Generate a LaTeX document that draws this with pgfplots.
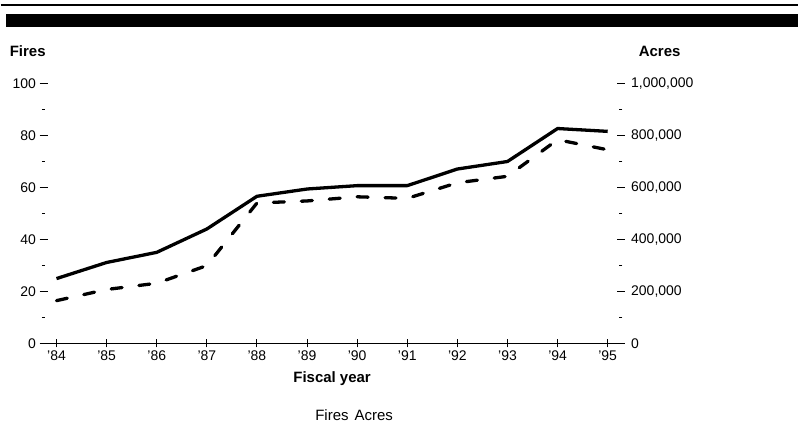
\documentclass[border=0pt]{standalone}
\usepackage{pgfplots}
\pgfplotsset{compat=1.18}
\usepackage{fontspec}
\setmainfont{Liberation Sans}
\pgfplotstableread{
year fires acres
84 25.0 165000
85 31.2 208000
86 35.1 232000
87 44.1 300000
88 56.7 541000
89 59.5 549000
90 60.8 565000
91 60.8 559000
92 67.2 619000
93 70.1 644000
94 82.8 785000
95 81.7 746000
}\fires
\begin{document}
\begin{tikzpicture}[x=1pt,y=1pt]
\pgfplotsset{
  common/.style={
    scale only axis, width=578pt, height=260pt,
    at={(0,0)}, anchor=south west,
    xmin=83.741, xmax=95.259, ymin=0,
    font=\fontsize{14}{16}\selectfont,
    tick label style={font=\fontsize{14}{16}\selectfont},
    /pgf/number format/assume math mode=true,
    tick align=inside,
    major tick length=8pt, minor tick length=3.5pt,
    every tick/.style={black, line width=1pt},
    clip=false,
  }
}
\begin{axis}[common, ymax=100,
  axis x line=bottom, axis y line=left,
  every outer x axis line/.append style={-, line width=1.6pt},
  every inner x axis line/.append style={-, line width=1.6pt},
  x axis line style={-, line width=1.6pt},
  y axis line style={draw=none},
  xtick={84,...,95},
  xticklabels={'84,'85,'86,'87,'88,'89,'90,'91,'92,'93,'94,'95},
  ytick={0,20,...,100}, minor y tick num=1,
  xlabel={\fontsize{15}{17}\selectfont\bfseries Fiscal year},
  xlabel style={yshift=-4pt},
]
\addplot[black, line width=3.3pt, line join=round] table[x=year,y=fires]{\fires};
\end{axis}
\begin{axis}[common, ymax=1000000,
  axis x line=none, axis y line=right,
  y axis line style={draw=none},
  ytick={0,200000,...,1000000}, minor y tick num=1,
  scaled y ticks=false,
  yticklabel style={xshift=3pt, /pgf/number format/.cd, fixed, 1000 sep={,}},
]
\addplot[black, line width=3.3pt, line cap=round, dash pattern=on 11pt off 17pt] table[x=year,y=acres]{\fires};
\end{axis}
\draw[black, line width=1.2pt] (-43,339) -- (756,339);
\fill[black] (-38,317) rectangle (756,330);
\node[anchor=base west, inner sep=0pt, font=\fontsize{15}{17}\selectfont\bfseries] at (-34,287) {Fires};
\node[anchor=base west, inner sep=0pt, font=\fontsize{15}{17}\selectfont\bfseries] at (596,287) {Acres};
\node[anchor=base west, inner sep=0pt, font=\fontsize{15}{17}\selectfont] at (272,-77) {Fires\hspace{6pt}Acres};
\path[use as bounding box] (-43,-89) rectangle (756,344);
\end{tikzpicture}
\end{document}
